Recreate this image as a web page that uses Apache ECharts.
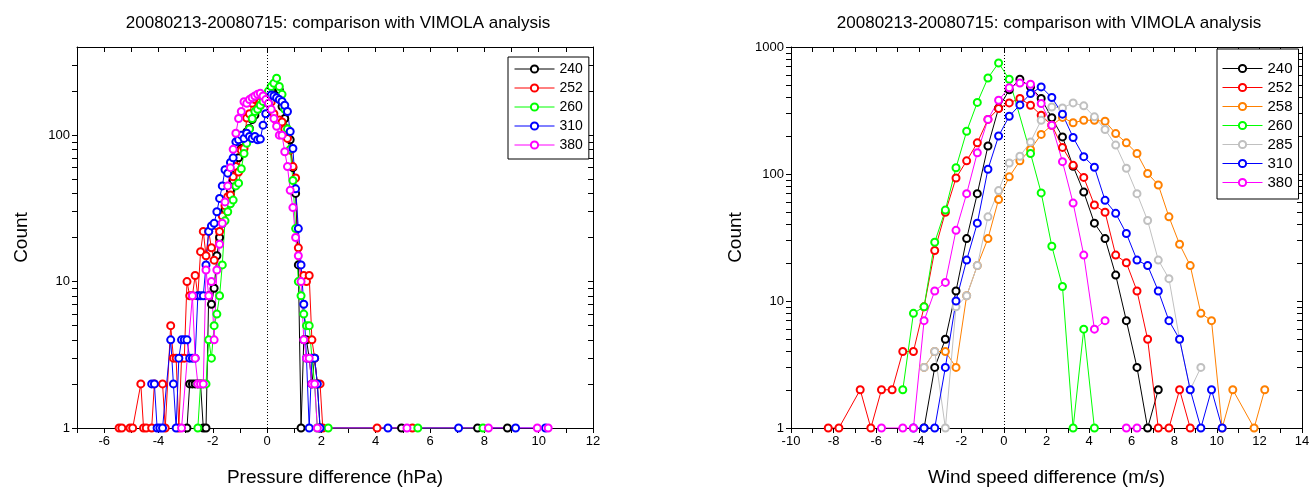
<!DOCTYPE html>
<html><head><meta charset="utf-8">
<script src="https://cdn.jsdelivr.net/npm/echarts@6/dist/echarts.min.js"></script>
<style>html,body{margin:0;padding:0;background:#fff}#c{width:1313px;height:489px}</style>
</head><body><div id="c"></div><script>
// ---- titles / labels ----
const titleText = '20080213-20080715: comparison with VIMOLA analysis';
const pressureName = 'Pressure difference (hPa)';
const windName = 'Wind speed difference (m/s)';
const countName = 'Count';
const pTickLabels = [-6,-4,-2,0,2,4,6,8,10,12];
const wTickLabels = [-10,-8,-6,-4,-2,0,2,4,6,8,10,12,14];
const pYLabels = [1,10,100];
const wYLabels = [1,10,100,1000];
const pYTicks = [1,2,3,4,5,6,7,8,9,10,20,30,40,50,60,70,80,90,100,200,300];
const wYTicks = [1,2,3,4,5,6,7,8,9,10,20,30,40,50,60,70,80,90,100,200,300,400,500,600,700,800,900,1000];
const pLegend = ['240','252','260','310','380'];
const wLegend = ['240','252','258','260','285','310','380'];

// ---- left panel: pressure difference ----
const p240x = [-2.95,-2.85,-2.75,-2.65,-2.55,-2.45,-2.35,-2.25,-2.15,-2.05,-1.95,-1.85,-1.75,-1.65,-1.55,-1.45,-1.35,-1.25,-1.15,-1.05,-0.95,-0.85,-0.75,-0.65,-0.55,-0.45,-0.35,-0.25,-0.15,-0.05,0.05,0.15,0.25,0.35,0.45,0.55,0.65,0.75,0.85,0.95,1.05,1.15,1.25,1.35,1.45,1.55,1.65,1.75,1.85,1.95,4.95,7.75,8.85];
const p240y = [1,2,2,2,2,2,1,1,8,7,9,15,20,25,31,35,42,49,58,70,81,95,105,111,128,137,150,160,170,175,185,200,210,215,204,157,130,110,93,60,40,13,1,4,4,3,2,3,2,1,1,1,1];
const p252x = [-5.45,-5.35,-5.05,-4.95,-4.65,-4.55,-4.45,-4.25,-4.15,-3.85,-3.75,-3.55,-3.45,-3.35,-3.25,-3.15,-3.05,-2.95,-2.85,-2.75,-2.65,-2.55,-2.45,-2.35,-2.25,-2.15,-2.05,-1.95,-1.85,-1.75,-1.65,-1.55,-1.45,-1.35,-1.25,-1.15,-1.05,-0.95,-0.85,-0.75,-0.65,-0.55,-0.45,-0.35,-0.25,-0.15,-0.05,0.05,0.15,0.25,0.35,0.45,0.55,0.65,0.75,0.85,0.95,1.05,1.15,1.25,1.35,1.45,1.55,1.65,1.75,1.85,1.95,2.05,4.05,5.35];
const p252y = [1,1,1,1,2,1,1,1,2,2,1,5,3,3,1,3,3,10,8,8,11,8,16,22,15,22,17,14,24,22,28,33,38,39,52,61,56,79,81,131,140,165,175,180,170,178,172,165,168,140,125,127,123,110,95,79,61,51,17,10,11,10,11,4,3,2,2,1,1,1];
const p260x = [-2.55,-2.45,-2.35,-2.25,-2.15,-2.05,-1.95,-1.85,-1.75,-1.65,-1.55,-1.45,-1.35,-1.25,-1.15,-1.05,-0.95,-0.85,-0.75,-0.65,-0.55,-0.45,-0.35,-0.25,-0.15,-0.05,0.05,0.15,0.25,0.35,0.45,0.55,0.65,0.75,0.85,0.95,1.05,1.15,1.25,1.35,1.45,1.55,1.65,1.75,1.85,2.25,5.55,7.95];
const p260y = [1,2,2,2,4,3,5,6,8,13,26,30,34,36,45,47,59,75,88,110,130,145,150,160,170,180,200,215,226,245,215,190,150,110,80,49,23,10,8,6,5,5,3,2,1,1,1,1];
const p310x = [-4.25,-4.15,-4.05,-3.95,-3.85,-3.55,-3.45,-3.35,-3.25,-3.15,-3.05,-2.95,-2.85,-2.75,-2.65,-2.55,-2.45,-2.35,-2.25,-2.15,-2.05,-1.95,-1.85,-1.75,-1.65,-1.55,-1.45,-1.35,-1.25,-1.15,-1.05,-0.95,-0.85,-0.75,-0.65,-0.55,-0.45,-0.35,-0.25,-0.15,-0.05,0.05,0.15,0.25,0.35,0.45,0.55,0.65,0.75,0.85,0.95,1.05,1.15,1.25,1.35,1.45,1.55,1.65,1.75,1.85,1.95,4.45,7.05,9.15,10.25];
const p310y = [2,2,1,1,1,4,2,1,3,4,4,4,3,3,3,8,8,8,13,22,24,25,30,37,45,58,55,65,70,90,93,100,95,103,98,95,98,93,94,117,140,165,188,185,180,175,170,160,145,106,81,43,23,13,7,3,1,3,3,2,1,1,1,1,1];
const p380x = [-3.15,-2.75,-2.65,-2.55,-2.45,-2.35,-2.25,-2.15,-2.05,-1.95,-1.85,-1.75,-1.65,-1.55,-1.45,-1.35,-1.25,-1.15,-1.05,-0.95,-0.85,-0.75,-0.65,-0.55,-0.45,-0.35,-0.25,-0.15,-0.05,0.05,0.15,0.25,0.35,0.45,0.55,0.65,0.75,0.85,0.95,1.05,1.15,1.25,1.35,1.45,1.55,1.65,1.75,1.85,5.15,8.15,9.95,10.35];
const p380y = [1,8,3,2,2,2,12,8,10,4,12,18,25,35,45,60,80,103,130,145,169,165,175,180,185,190,193,185,175,165,150,130,115,100,100,77,61,42,32,20,15,10,4,3,3,2,2,1,1,1,1,1];

// ---- right panel: wind speed difference ----
const w240x = [-3.75,-3.25,-2.75,-2.25,-1.75,-1.25,-0.75,-0.25,0.25,0.75,1.25,1.75,2.25,2.75,3.25,3.75,4.25,4.75,5.25,5.75,6.25,6.75,7.25];
const w240y = [1,3,5,12,31,70,166,330,460,557,485,393,277,196,115,72,41,31,16,7,3,1,2];
const w252x = [-8.25,-7.75,-6.75,-6.25,-5.75,-5.25,-4.75,-4.25,-3.75,-3.25,-2.75,-2.25,-1.75,-1.25,-0.75,-0.25,0.25,0.75,1.25,1.75,2.25,2.75,3.25,3.75,4.25,4.75,5.25,5.75,6.25,6.75,7.25,7.75,8.25,8.75];
const w252y = [1,1,2,1,2,2,4,4,9,25,50,93,127,176,269,328,363,393,348,290,242,162,117,94,57,50,23,20,12,5,1,1,2,1];
const w258x = [-3.75,-3.25,-2.75,-2.25,-1.75,-1.25,-0.75,-0.25,0.25,0.75,1.25,1.75,2.25,2.75,3.25,3.75,4.25,4.75,5.25,5.75,6.25,6.75,7.25,7.75,8.25,8.75,9.25,9.75,10.25,10.75,11.75,12.25];
const w258y = [3,4,4,3,11,19,31,63,95,127,156,205,242,279,253,265,265,260,208,176,145,101,82,46,28,19,8,7,1,2,1,2];
const w260x = [-4.75,-4.25,-3.75,-3.25,-2.75,-2.25,-1.75,-1.25,-0.75,-0.25,0.25,1.25,1.75,2.25,2.75,3.25,3.75,4.25];
const w260y = [2,8,9,29,52,112,217,366,570,748,557,145,71,27,13,1,6,1];
const w285x = [-3.75,-3.25,-2.75,-2.25,-1.75,-1.25,-0.75,-0.25,0.25,0.75,1.25,1.75,2.25,2.75,3.25,3.75,4.25,4.75,5.25,5.75,6.25,6.75,7.25,7.75,8.25,8.75,9.25];
const w285y = [3,4,1,9,11,19,46,74,122,138,179,265,337,331,363,344,282,224,169,111,70,43,21,15,5,2,3];
const w310x = [-4.25,-3.75,-3.25,-2.75,-2.25,-1.75,-1.25,-0.75,-0.25,0.25,0.75,1.25,1.75,2.25,2.75,3.25,3.75,4.25,4.75,5.25,5.75,6.25,6.75,7.25,7.75,8.25,8.75,9.25,9.75,10.25];
const w310y = [1,1,1,3,10,21,41,109,199,285,350,430,485,400,296,194,137,113,62,49,34,21,19,12,7,5,2,1,2,1];
const w380x = [-5.75,-4.75,-4.25,-3.75,-3.25,-2.75,-2.25,-1.75,-1.25,-0.75,-0.25,0.25,0.75,1.25,1.75,2.25,2.75,3.25,3.75,4.25,4.75,5.25,5.75,6.25];
const w380y = [1,1,1,7,12,14,36,70,147,269,381,478,521,509,359,242,125,59,23,6,7,null,1,1];

// ---- styling ----
const FONT = 'Liberation Sans, Arial, sans-serif';
const COL = {'240':'#000000','252':'#ff0000','258':'#ff8000','260':'#00ff00','285':'#c0c0c0','310':'#0000ff','380':'#ff00ff'};

function zip(xs, ys) { return xs.map((x, i) => [x, ys[i]]); }
function mkSeries(name, xs, ys, xi, yi, zero) {
  const c = COL[name];
  const s = {
    name: name, type: 'line', xAxisIndex: xi, yAxisIndex: yi,
    data: zip(xs, ys), symbol: 'emptyCircle', symbolSize: 7,
    connectNulls: false, clip: true,
    lineStyle: {color: c, width: 1},
    itemStyle: {color: c, borderColor: c, borderWidth: 1},
    emphasis: {disabled: true}, animation: false
  };
  if (zero) {
    s.markLine = {silent: true, symbol: ['none','none'], label: {show: false},
      lineStyle: {color: '#000', type: [1,2], width: 1}, emphasis: {disabled: true},
      data: [{xAxis: 0}], animation: false};
  }
  return s;
}
// empty helper series so that the mirror axes are bound to the grid
function dummy(xi, yi) {
  return {name: '', type: 'line', xAxisIndex: xi, yAxisIndex: yi, data: [], silent: true, animation: false};
}

const axLine = {show: true, onZero: false, lineStyle: {color: '#000', width: 1}};
const fmt = v => String(Math.round(v));
function xAxes(grid, min, max, labels, name) {
  return [
    {type: 'value', gridIndex: grid, position: 'bottom', min: min, max: max, interval: 1,
     axisLine: axLine, splitLine: {show: false},
     axisTick: {show: true, length: 5, lineStyle: {color: '#000'}},
     axisLabel: {customValues: labels, color: '#000', fontSize: 13, fontFamily: FONT, margin: 7},
     name: name, nameLocation: 'middle', nameGap: 40,
     nameTextStyle: {fontSize: 19, color: '#000', fontFamily: FONT}},
    {type: 'value', gridIndex: grid, position: 'top', min: min, max: max, interval: 1,
     axisLine: axLine, splitLine: {show: false},
     axisTick: {show: true, inside: true, length: 5, lineStyle: {color: '#000'}},
     axisLabel: {show: false}}
  ];
}
function yAxes(grid, max, labels, ticks) {
  const common = {type: 'log', logBase: 10, gridIndex: grid, min: 1, max: max, splitLine: {show: false}};
  return [
    Object.assign({}, common, {position: 'left', axisLine: axLine,
      axisTick: {show: true, length: 5, customValues: ticks, lineStyle: {color: '#000'}},
      axisLabel: {customValues: labels, formatter: fmt, color: '#000', fontSize: 13, fontFamily: FONT, margin: 7},
      name: countName, nameLocation: 'middle', nameGap: 46,
      nameTextStyle: {fontSize: 19, color: '#000', fontFamily: FONT}}),
    Object.assign({}, common, {position: 'right', axisLine: axLine,
      axisTick: {show: true, inside: true, length: 5, customValues: ticks, lineStyle: {color: '#000'}},
      axisLabel: {show: false}})
  ];
}
function legend(names, left, top, pad, fs, gap) {
  return {data: names, orient: 'vertical', left: left, top: top, itemWidth: 40, itemHeight: 9,
    itemGap: gap, padding: pad, borderColor: '#000', borderWidth: 1, borderRadius: 0,
    backgroundColor: '#fff', selectedMode: false,
    lineStyle: {width: 1}, itemStyle: {borderWidth: 1},
    textStyle: {fontSize: fs, color: '#000', fontFamily: FONT}};
}

const series = [
  mkSeries('240', p240x, p240y, 0, 0, true),
  mkSeries('252', p252x, p252y, 0, 0),
  mkSeries('260', p260x, p260y, 0, 0),
  mkSeries('310', p310x, p310y, 0, 0),
  mkSeries('380', p380x, p380y, 0, 0),
  mkSeries('240', w240x, w240y, 2, 2, true),
  mkSeries('252', w252x, w252y, 2, 2),
  mkSeries('258', w258x, w258y, 2, 2),
  mkSeries('260', w260x, w260y, 2, 2),
  mkSeries('285', w285x, w285y, 2, 2),
  mkSeries('310', w310x, w310y, 2, 2),
  mkSeries('380', w380x, w380y, 2, 2),
  dummy(1, 1), dummy(3, 3)
];

const titleStyle = {fontSize: 17, fontWeight: 'normal', color: '#000', fontFamily: FONT};
const option = {
  animation: false,
  backgroundColor: '#fff',
  title: [
    {text: titleText, left: 333, top: 10, textAlign: 'center', textStyle: titleStyle},
    {text: titleText, left: 1044, top: 10, textAlign: 'center', textStyle: titleStyle}
  ],
  grid: [
    {left: 77, top: 47, width: 516, height: 381, outerBoundsMode: 'none', containLabel: false},
    {left: 791, top: 47, width: 511, height: 381, outerBoundsMode: 'none', containLabel: false}
  ],
  legend: [legend(pLegend, 508, 57, [5,6,7,6], 14, 5), legend(wLegend, 1217, 49, [12,6,9,5], 15, 4)],
  xAxis: xAxes(0, -7, 12, pTickLabels, pressureName).concat(xAxes(1, -10, 14, wTickLabels, windName)),
  yAxis: yAxes(0, 400, pYLabels, pYTicks).concat(yAxes(1, 1000, wYLabels, wYTicks)),
  series: series
};

const chart = echarts.init(document.getElementById('c'), null, {renderer: 'canvas'});
chart.setOption(option);
</script></body></html>
